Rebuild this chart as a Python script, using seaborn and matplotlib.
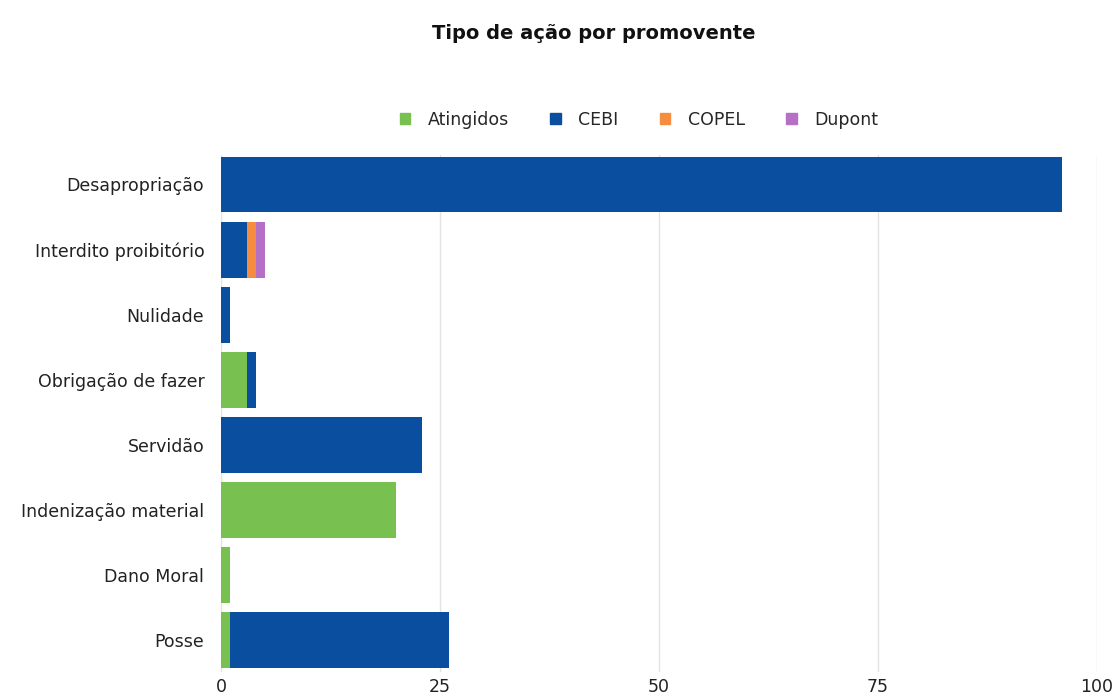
import pandas as pd
import matplotlib.pyplot as plt
import seaborn as sns

tipos = ["Desapropriação", "Interdito proibitório", "Nulidade", "Obrigação de fazer",
         "Servidão", "Indenização material", "Dano Moral", "Posse"]
atingidos = [0, 0, 0, 3, 0, 20, 1, 1]
cebi = [96, 3, 1, 1, 23, 0, 0, 25]
copel = [0, 1, 0, 0, 0, 0, 0, 0]
dupont = [0, 1, 0, 0, 0, 0, 0, 0]
ticks = [0, 25, 50, 75, 100]

cores = {"Atingidos": "#78c04f", "CEBI": "#0a4f9f", "COPEL": "#f68d3e", "Dupont": "#b56fc4"}

df = pd.DataFrame({"Tipo": tipos, "Atingidos": atingidos, "CEBI": cebi,
                   "COPEL": copel, "Dupont": dupont})

# cumulative sums so the series stack left to right
series = ["Atingidos", "CEBI", "COPEL", "Dupont"]
cum = df[series].cumsum(axis=1)
cum["Tipo"] = df["Tipo"]

sns.set_style("white")
plt.rcParams["font.family"] = ["DejaVu Sans"]

fig = plt.figure(figsize=(11.19, 6.96), dpi=100)
ax = fig.add_axes([0.1975, 0.0345, 0.7825, 0.7425])

# draw the largest cumulative first, then overlay the smaller ones
for s in reversed(series):
    sns.barplot(data=cum, y="Tipo", x=s, color=cores[s], width=0.86,
                orient="h", ax=ax, order=tipos, saturation=1, linewidth=0)

ax.set_xlim(0, 100)
ax.set_ylim(7.49, -0.45)
ax.set_xticks(ticks)
ax.xaxis.grid(True, color="#e3e3e3", linewidth=1)
ax.set_axisbelow(True)
for sp in ax.spines.values():
    sp.set_visible(False)
ax.set_xlabel("")
ax.set_ylabel("")
ax.tick_params(axis="both", length=0, labelsize=12.5, colors="#222222")
ax.tick_params(axis="y", pad=12)
ax.tick_params(axis="x", pad=4)

fig.legend([plt.Rectangle((0, 0), 1, 1, color=cores[s]) for s in series], series,
           loc="center", bbox_to_anchor=(0.571, 0.828), ncol=4, frameon=False,
           fontsize=12.5, handlelength=0.6, handleheight=0.6, columnspacing=2.4,
           handletextpad=1.0)

fig.suptitle("Tipo de ação por promovente", x=0.531, y=0.965, fontsize=14,
             fontweight="bold", color="#111111")

fig.savefig("out.png", dpi=100)
